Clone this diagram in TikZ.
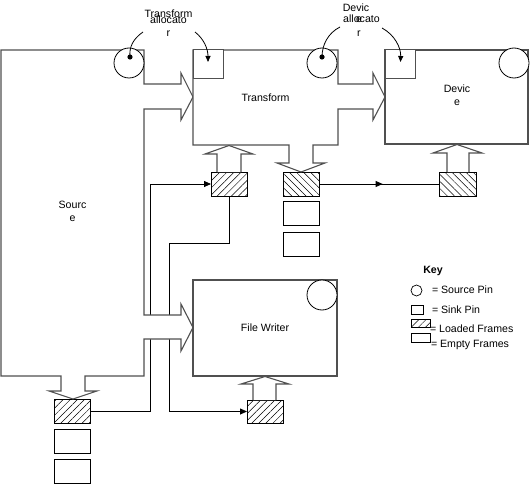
\documentclass[tikz,border=0pt]{standalone}
\usepackage{fontspec}
\setmainfont{Liberation Sans}
\usetikzlibrary{arrows.meta,patterns.meta,decorations.markings}
\begin{document}
\begin{tikzpicture}[x=1pt,y=-1pt,
  every node/.style={inner sep=0pt,outer sep=0pt,font=\fontsize{10.6}{13}\selectfont},
  shp/.style={draw={rgb,255:red,80;green,80;blue,80},line width=1.1pt,fill=white,line join=miter},
  conn/.style={draw=black,line width=0.8pt},
  tip/.style={-{Triangle[length=7pt,width=6pt]}},
  smalltip/.style={-{Triangle[length=6pt,width=5pt]}},
  frm/.style={draw=black,line width=0.8pt,fill=white,minimum width=36pt,minimum height=24pt},
  ldf/.style={draw=black,line width=0.8pt,minimum width=36pt,minimum height=24pt,pattern={Lines[angle=45,distance=5pt,line width=0.5pt]}},
  ldb/.style={draw=black,line width=0.8pt,minimum width=36pt,minimum height=24pt,pattern={Lines[angle=-45,distance=5pt,line width=0.5pt]}},
  srcpin/.style={circle,draw=black,line width=0.8pt,fill=white,minimum size=30pt},
  snkpin/.style={draw={rgb,255:red,80;green,80;blue,80},line width=1.0pt,fill=white,minimum width=30pt,minimum height=29pt},
  keyitem/.style={draw=black,line width=0.7pt,fill=white},
  lbl/.style={anchor=base},
  midtip/.style={postaction={decorate},decoration={markings,mark=at position 0.53 with {\arrow{Triangle[length=7pt,width=6pt]}}}}
]
\useasboundingbox (0,0) rectangle (530,484);

% frames
\node[ldf] (sf1) at (72.5,411) {};
\node[frm] (se1) at (72.5,441) {};
\node[frm] (se2) at (72.5,471) {};
\node[ldf] (tin) at (229,184) {};
\node[ldb] (tout) at (301,184) {};
\node[frm] (te1) at (301,213.5) {};
\node[frm] (te2) at (301,244) {};
\node[ldb,minimum width=37pt] (din) at (457.5,184) {};
\node[ldf,minimum height=23pt] (fin) at (265,411.5) {};

% connectors between frames
\draw[conn,tip] (sf1.east) -- ++(60,0) |- (tin.west);
\draw[conn,tip] (tin.south) |- (169,243) |- (fin.west);
\draw[conn,midtip] (tout.east) -- (din.west);

% Source with its output arrows
\draw[shp] (1,50) -- (144,50) -- (144,84) -- (181,84) -- (181,73) -- (193,97) -- (181,120) -- (181,109)
  -- (144,109) -- (144,315) -- (181,315) -- (181,304) -- (193,327.5) -- (181,351) -- (181,339)
  -- (144,339) -- (144,376) -- (85,376) -- (85,391) -- (97,391) -- (73,399) -- (49,391) -- (61,391)
  -- (61,376) -- (1,376) -- cycle;
\node[anchor=north,align=center] (src) at (72.5,201) {Sourc\\e};

% Transform with its output arrows
\draw[shp] (193,50) -- (338,50) -- (338,84) -- (373,84) -- (373,73) -- (385,97) -- (373,120) -- (373,109)
  -- (338,109) -- (338,145) -- (313,145) -- (313,163) -- (325,163) -- (301,172) -- (277,163) -- (289,163)
  -- (289,145) -- (193,145) -- cycle;
\node[lbl] (trf) at (265.5,102) {Transform};
% input arrow into Transform
\draw[shp] (tin.north -| 217,0) -- (217,154) -- (205,154) -- (229,145.5) -- (253,154) -- (241,154) -- (tin.north -| 241,0);

% Device
\node[shp,minimum width=143pt,minimum height=94pt] (dev) at (456.5,97) {};
\node[anchor=north,align=center] (devl) at (457,85) {Devic\\e};
\draw[shp] (din.north -| 447,0) -- (447,153) -- (433,153) -- (457,144.5) -- (482,153) -- (469,153) -- (din.north -| 469,0);

% File Writer
\node[shp,minimum width=144pt,minimum height=96pt] (fw) at (265,328) {};
\node[lbl] (fwl) at (265,331) {File Writer};
\draw[shp] (fin.north -| 253,0) -- (253,384) -- (241,384) -- (265,376.5) -- (289,384) -- (276,384) -- (fin.north -| 276,0);

% pins
\node[srcpin] (spin) at (129,63) {};
\node[srcpin] (tpin) at (322,63) {};
\node[srcpin] (dpin) at (514,63) {};
\node[srcpin] (fpin) at (322,295) {};
\node[snkpin] (tsink) at (208,64.5) {};
\node[snkpin] (dsink) at (400.5,64.5) {};

% allocator labels
\node[lbl] (ta1) at (168.5,18) {Transform};
\node[lbl] (ta2) at (168.5,24) {allocato};
\node[lbl] (ta3) at (168.5,37) {r};
\node[lbl] (da1) at (356,12) {Devic};
\node[lbl] (da2) at (361.5,23) {allocato};
\node[lbl] (da4) at (359,23) {e};
\node[lbl] (da3) at (359,37) {r};

\coordinate (tc1) at (143,32);
\coordinate (tdot) at (130,57);
\coordinate (tc2) at (195,32);
\coordinate (dc1) at (340,27);
\coordinate (ddot) at (322,57);
\coordinate (dc2) at (382,28);
\draw[conn] (tc1) .. controls (133,39) and (129,47) .. (tdot);
\fill (tdot) circle (2.6pt);
\draw[conn,smalltip] (tc2) .. controls (204,39) and (208,49) .. (tsink.center |- 0,62);
\draw[conn] (dc1) .. controls (328,33) and (322,45) .. (ddot);
\fill (ddot) circle (2.6pt);
\draw[conn,smalltip] (dc2) .. controls (395,35) and (401,48) .. (dsink.center |- 0,62);

% key
\node[lbl,font=\fontsize{10.6}{13}\bfseries] (keyt) at (433,273) {Key};
\node[circle,keyitem,minimum size=11pt] (k1) at (416.5,290.5) {};
\node[anchor=base west] (k1t) at (432,293.5) {= Source Pin};
\node[keyitem,minimum width=12pt,minimum height=9pt] (k2) at (417,309.5) {};
\node[anchor=base west] (k2t) at (432,313) {= Sink Pin};
\node[draw=black,line width=0.7pt,minimum width=19pt,minimum height=8pt,pattern={Lines[angle=45,distance=5pt,line width=0.5pt]}] (k3) at (420.5,323) {};
\node[anchor=base west] (k3t) at (430,332) {= Loaded Frames};
\node[keyitem,minimum width=19pt,minimum height=9pt] (k4) at (420.5,337.5) {};
\node[anchor=base west] (k4t) at (431,347) {= Empty Frames};
\end{tikzpicture}
\end{document}
